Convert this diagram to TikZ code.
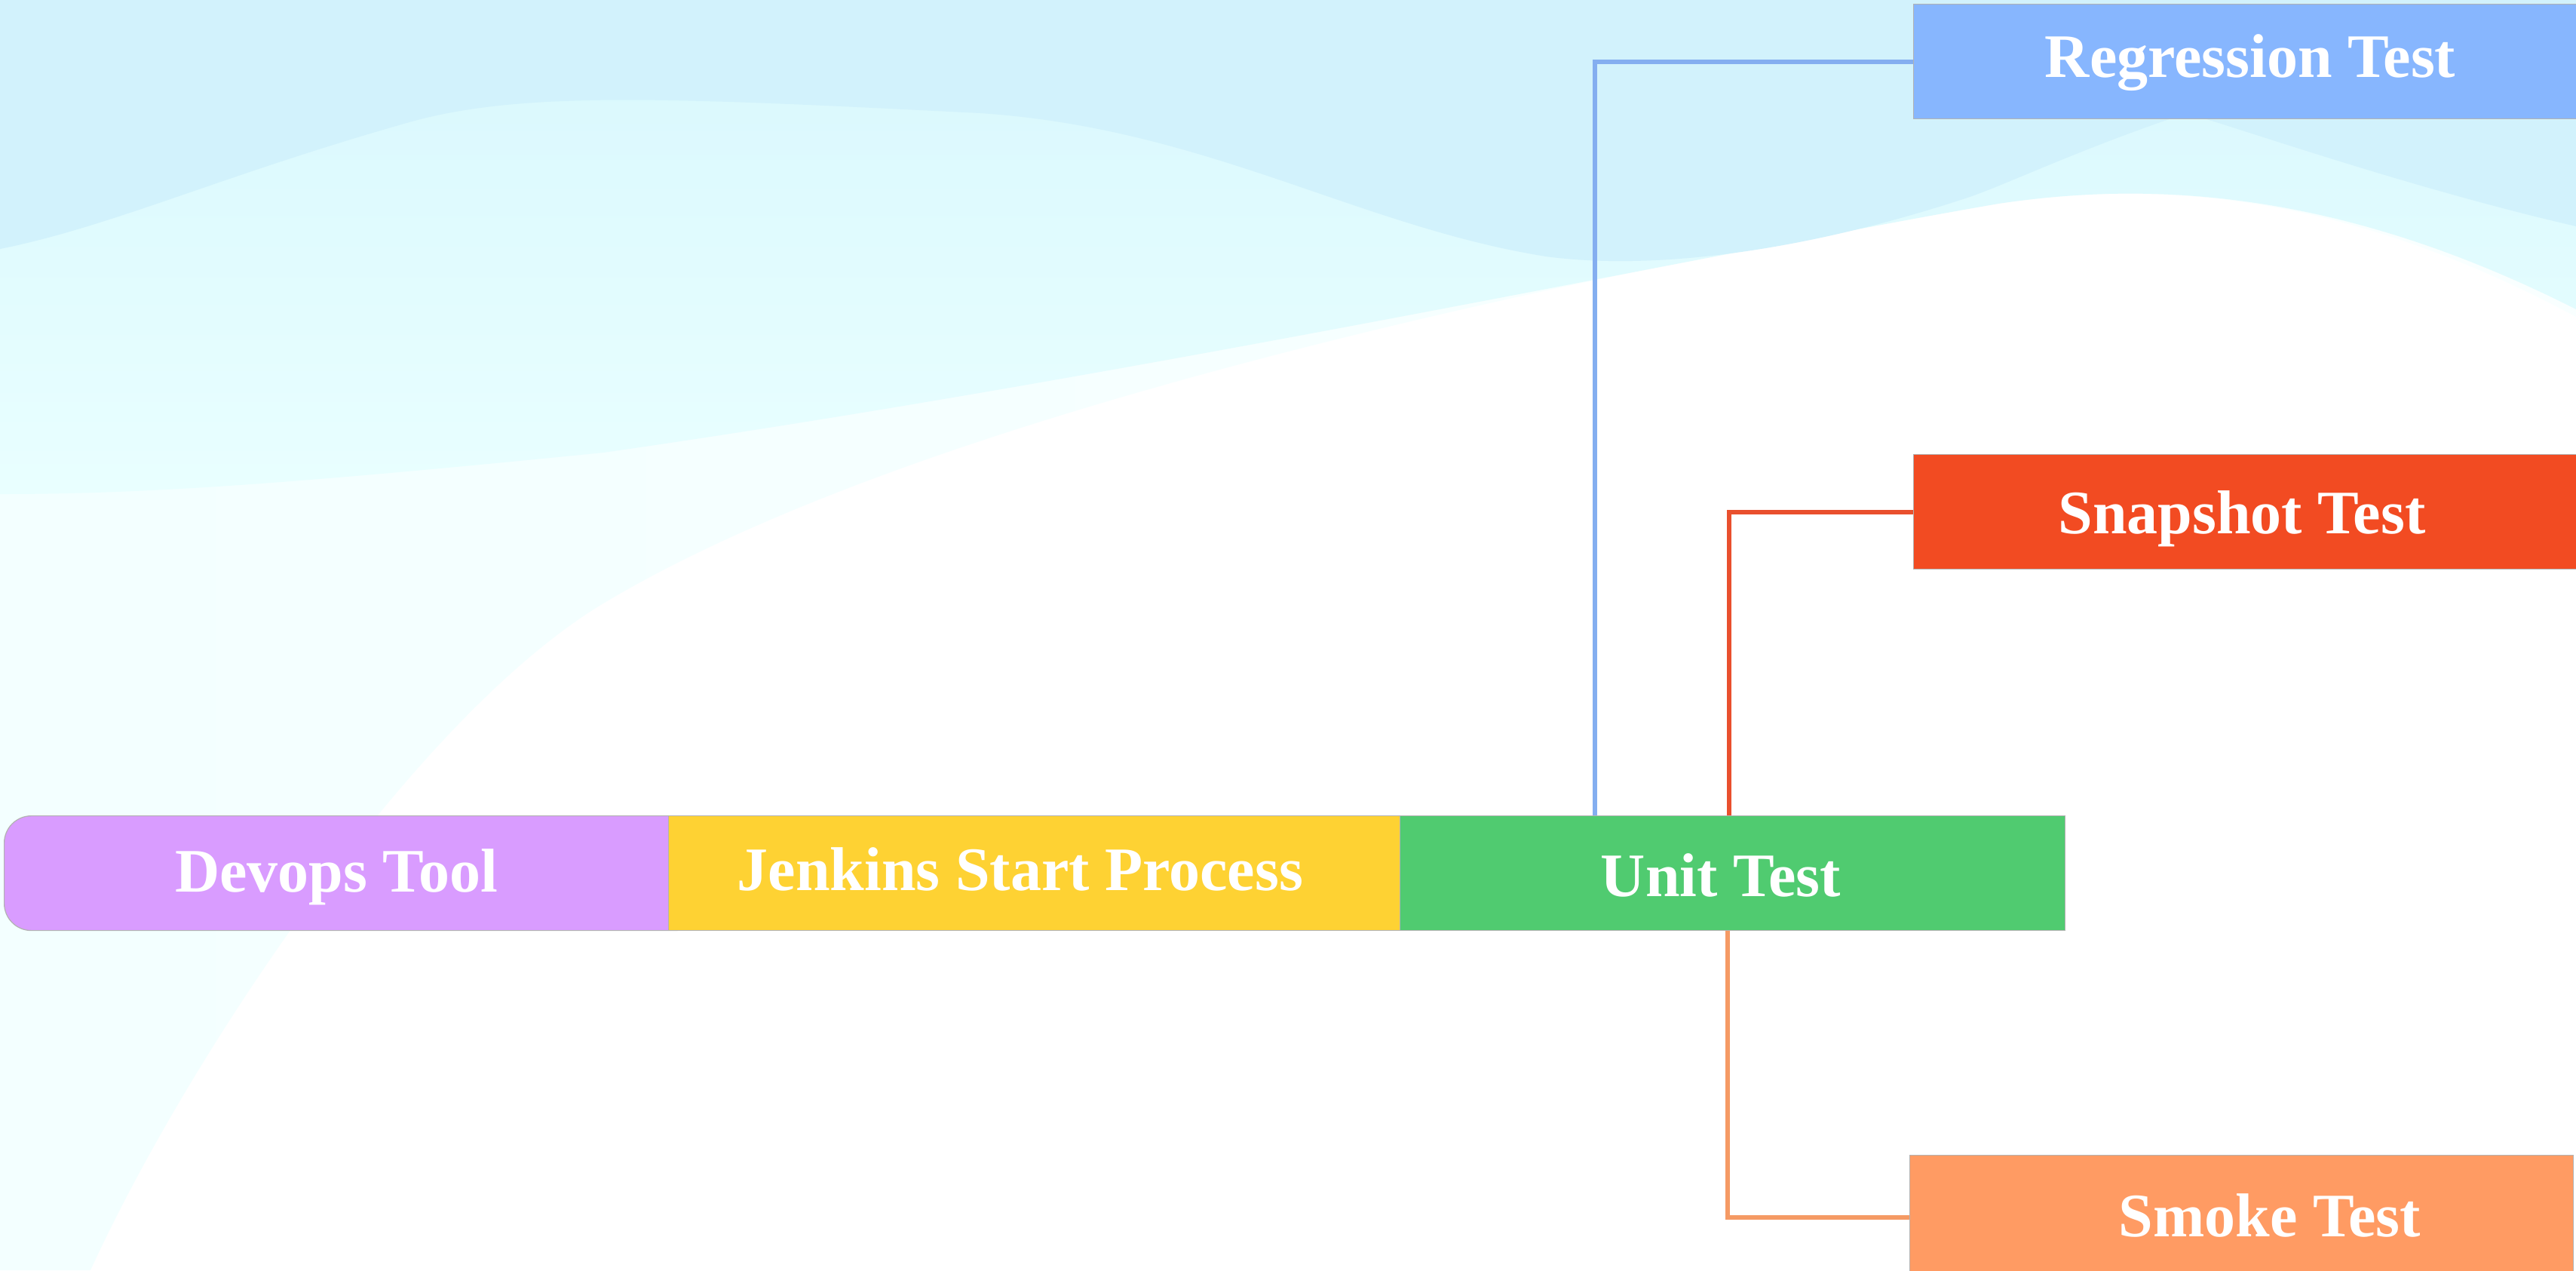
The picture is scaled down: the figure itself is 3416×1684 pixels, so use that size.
\documentclass[tikz,border=0pt]{standalone}
\usepackage{fontspec}
\setmainfont{Liberation Serif}
\definecolor{devopsc}{HTML}{D99CFF}
\definecolor{jenkinsc}{HTML}{FED233}
\definecolor{unitc}{HTML}{50CB70}
\definecolor{regc}{HTML}{87B6FE}
\definecolor{snapc}{HTML}{F24B22}
\definecolor{smokec}{HTML}{FF9B63}
\definecolor{bluel}{HTML}{84AEF0}
\definecolor{redl}{HTML}{E9502E}
\definecolor{orangel}{HTML}{F59A64}
\definecolor{bgfaint}{HTML}{F3FFFF}
\definecolor{bgmidtop}{HTML}{D8F7FD}
\definecolor{bgmidbot}{HTML}{E9FFFF}
\definecolor{bgdark}{HTML}{D2F2FC}
\begin{document}
\begin{tikzpicture}[x=0.25pt,y=-0.25pt,
  box/.style={draw=black!30, line width=0.3pt, inner sep=0pt, anchor=north west, minimum height=38pt},
  lbl/.style={text=white, font=\bfseries\fontsize{20.5}{24}\selectfont, anchor=base, inner sep=0pt},
  link/.style={line width=1.5pt}]
\useasboundingbox (0,0) rectangle (3416,1684);
% background
\fill[white] (0,0) rectangle (3416,1684);
\shade[left color=bgfaint, right color=white!50!bgfaint] (0,0) -- (3416,0) -- (3416,420)
  .. controls (3100,250) and (2850,240) .. (2650,270)
  .. controls (2000,380) and (1200,560) .. (800,800)
  .. controls (550,950) and (250,1400) .. (120,1684)
  -- (0,1684) -- cycle;
\shade[top color=bgmidtop, bottom color=bgmidbot] (0,0) -- (3416,0) -- (3416,410)
  .. controls (3100,250) and (2850,240) .. (2650,270)
  .. controls (2300,330) and (1500,500) .. (800,600)
  .. controls (400,640) and (200,655) .. (0,655) -- cycle;
\fill[bgdark] (0,0) -- (3416,0) -- (3416,300)
  .. controls (3200,250) and (3000,180) .. (2900,150)
  .. controls (2750,200) and (2650,250) .. (2600,265)
  .. controls (2400,330) and (2200,360) .. (2050,340)
  .. controls (1800,300) and (1600,170) .. (1300,150)
  .. controls (900,130) and (700,120) .. (550,160)
  .. controls (300,230) and (150,300) .. (0,330) -- cycle;
% helper coordinates
\coordinate (bx) at (2115,0);
\coordinate (rx) at (2293,0);
\coordinate (ox) at (2291,0);
% boxes
\node[box, fill=devopsc, rounded corners=9pt, minimum width=231.25pt] (devopsbox) at (5,1081) {};
\node[box, fill=jenkinsc, minimum width=242.5pt] (jenkinsbox) at (886,1081) {};
\node[box, fill=unitc, minimum width=220.5pt] (unitbox) at (1856,1081) {};
\node[box, fill=regc, minimum width=221pt] (regbox) at (2537,5) {};
\node[box, fill=snapc, minimum width=221pt] (snapbox) at (2537,602) {};
\node[box, fill=smokec, minimum width=220pt, minimum height=41pt] (smokebox) at (2532,1531) {};
% connectors
\draw[link, bluel] (unitbox.north -| bx) |- (regbox.west);
\draw[link, redl] (unitbox.north -| rx) |- (snapbox.west);
\draw[link, orangel] (unitbox.south -| ox) |- (smokebox.west);
% labels
\node[lbl] (devops) at (446,1182) {Devops Tool};
\node[lbl] (jenkins) at (1353,1180) {Jenkins Start Process};
\node[lbl] (unit) at (2282,1188) {Unit Test};
\node[lbl] (reg) at (2984,102) {Regression Test};
\node[lbl] (snap) at (2973,707) {Snapshot Test};
\node[lbl] (smoke) at (3010,1639) {Smoke Test};
\end{tikzpicture}
\end{document}
